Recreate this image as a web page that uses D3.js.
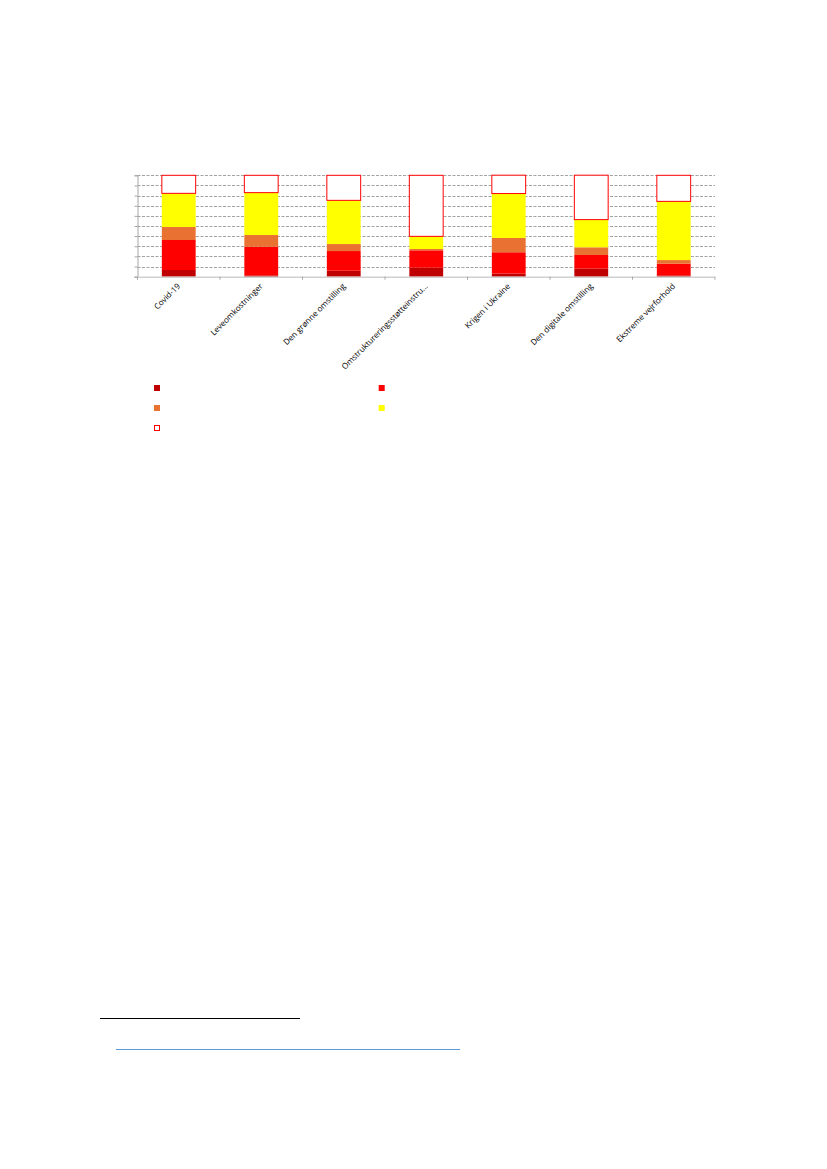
<!DOCTYPE html>
<html>
<head>
<meta charset="utf-8">
<script src="https://cdn.jsdelivr.net/npm/d3@7"></script>
<style>
  html, body { margin: 0; padding: 0; background: #fff; }
  svg text { font-family: "Open Sans", "Liberation Sans", sans-serif; }
</style>
</head>
<body>
<svg id="chart" width="827" height="1169"></svg>
<script>
// data (percent of respondents)
const categories = [
  "Covid-19",
  "Leveomkostninger",
  "Den grønne omstilling",
  "Omstruktureringsstøtteinstru...",
  "Krigen i Ukraine",
  "Den digitale omstilling",
  "Ekstreme vejrforhold"
];
const seriesKeys = ["s1", "s2", "s3", "s4", "s5"];
const s1 = [6.6, 1.3, 5.9, 8.9, 3.0, 7.9, 1.3];
const s2 = [29.6, 28.3, 19.4, 17.1, 21.1, 13.5, 11.5];
const s3 = [12.8, 11.5, 6.9, 1.3, 14.1, 7.6, 3.6];
const s4 = [33.2, 41.8, 43.1, 12.5, 43.8, 27.3, 57.9];
const s5 = [17.8, 17.1, 24.7, 60.2, 18.1, 43.8, 25.7];
const yTicks = [0, 10, 20, 30, 40, 50, 60, 70, 80, 90, 100];

// colours
const fills   = { s1: "#C00000", s2: "#FF0000", s3: "#E97132", s4: "#FFFF00", s5: "#FFFFFF" };
const strokes = { s1: "none", s2: "none", s3: "none", s4: "none", s5: "#FF0000" };

const svg = d3.select("#chart");

// plot area
const plotL = 137.5, plotR = 715, plotT = 175.3, plotB = 276.7;

const table = categories.map((c, i) => ({
  cat: c, s1: s1[i], s2: s2[i], s3: s3[i], s4: s4[i], s5: s5[i]
}));
const stacked = d3.stack().keys(seriesKeys)(table);

const x = d3.scaleBand()
  .domain(categories)
  .range([plotL, plotR])
  .paddingInner(0.59)
  .paddingOuter(0.295);

const y = d3.scaleLinear()
  .domain([0, 100])
  .range([plotB, plotT]);

// gridlines
svg.append("g")
  .selectAll("line")
  .data(yTicks.filter(d => d > 0))
  .join("line")
    .attr("x1", plotL)
    .attr("x2", plotR)
    .attr("y1", d => Math.round(y(d)) + 0.5)
    .attr("y2", d => Math.round(y(d)) + 0.5)
    .style("stroke", "#8c8c8c")
    .style("stroke-width", 0.8)
    .style("stroke-dasharray", "3,1.5");

// y axis (no labels)
const yAxis = svg.append("g")
  .attr("transform", `translate(${plotL},0)`)
  .call(d3.axisLeft(y).tickValues(yTicks).tickSize(3).tickFormat(""));
yAxis.select(".domain").style("stroke", "#a6a6a6");
yAxis.selectAll(".tick line").style("stroke", "#a6a6a6");

// bars
svg.append("g")
  .selectAll("g")
  .data(stacked)
  .join("g")
    .attr("fill", d => fills[d.key])
    .attr("stroke", d => strokes[d.key])
    .attr("stroke-width", 1)
  .selectAll("rect")
  .data(d => d)
  .join("rect")
    .attr("x", d => x(d.data.cat))
    .attr("y", d => y(d[1]))
    .attr("width", x.bandwidth())
    .attr("height", d => y(d[0]) - y(d[1]));

// x axis with ticks on category boundaries
const bounds = d3.range(categories.length + 1).map(i => plotL + i * x.step());
const xg = svg.append("g");
xg.append("line")
  .attr("x1", plotL).attr("x2", plotR)
  .attr("y1", plotB + 0.5).attr("y2", plotB + 0.5)
  .style("stroke", "#d0d0d0")
  .style("stroke-width", 1.5);
xg.selectAll("line.tk")
  .data(bounds)
  .join("line")
    .attr("class", "tk")
    .attr("x1", d => d).attr("x2", d => d)
    .attr("y1", plotB).attr("y2", plotB + 3)
    .style("stroke", "#a6a6a6");

// rotated category labels
xg.selectAll("text")
  .data(categories)
  .join("text")
    .attr("text-anchor", "end")
    .attr("transform", d => {
      const cx = x(d) + x.bandwidth() / 2 + 2;
      return `translate(${cx},${plotB + 10}) rotate(-45)`;
    })
    .style("font-size", "8.1px")
    .style("fill", "#000")
    .text(d => d);

// legend (markers only)
const legendKeys = ["s1", "s2", "s3", "s4", "s5"];
const legend = svg.append("g");
legendKeys.forEach((k, i) => {
  const col = i % 2, row = Math.floor(i / 2);
  legend.append("rect")
    .attr("x", k === "s5" ? 154.5 : 154 + col * 224.7)
    .attr("y", k === "s5" ? 425.5 : 385 + row * 20)
    .attr("width", k === "s5" ? 5 : 6)
    .attr("height", k === "s5" ? 5 : 6)
    .attr("fill", fills[k])
    .attr("stroke", k === "s5" ? "#FF0000" : "none")
    .attr("stroke-width", 1);
});

// footnote rules
svg.append("line")
  .attr("x1", 100).attr("x2", 300)
  .attr("y1", 1018.5).attr("y2", 1018.5)
  .style("stroke", "#000")
  .style("stroke-width", 1);
svg.append("line")
  .attr("x1", 116).attr("x2", 460)
  .attr("y1", 1049.5).attr("y2", 1049.5)
  .style("stroke", "#5b9bd5")
  .style("stroke-width", 1);
</script>
</body>
</html>
